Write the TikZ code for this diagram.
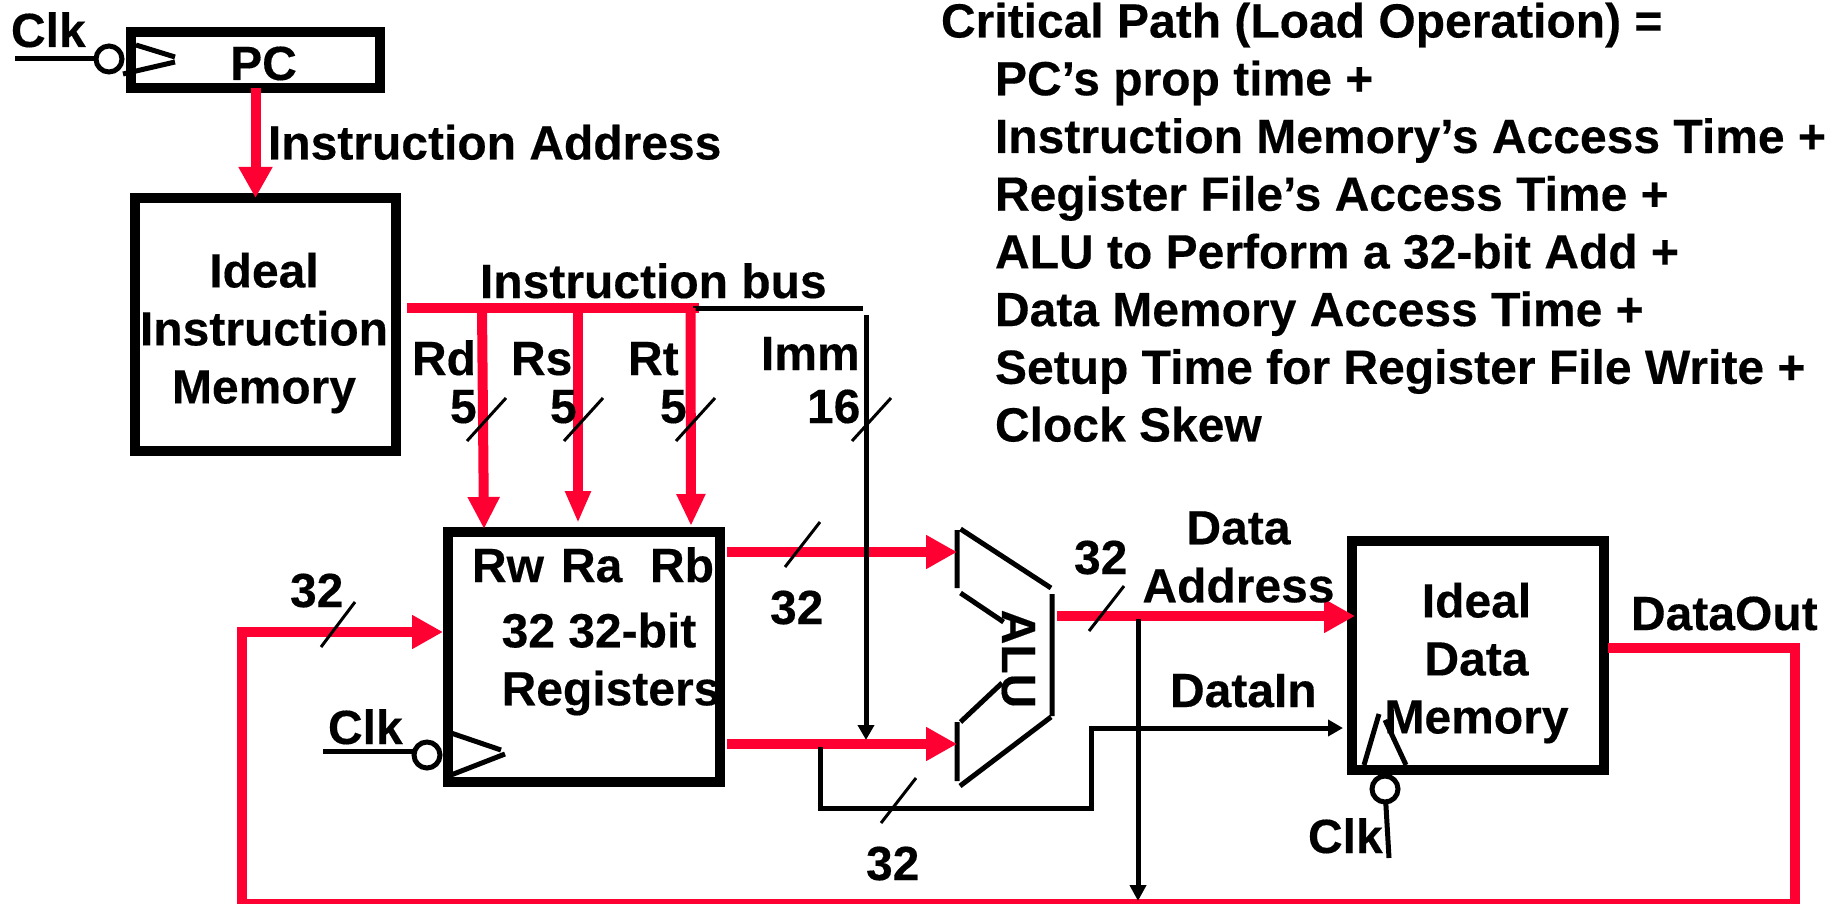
\documentclass[tikz,border=0pt]{standalone}
\usepackage{fontspec}
\setmainfont{Liberation Sans}[BoldFont={Liberation Sans Bold},BoldFeatures={FakeBold=0.3}]
\usetikzlibrary{arrows.meta}
\definecolor{busred}{HTML}{FF0033}
\tikzset{
  lbl/.style={font=\bfseries\fontsize{48}{58}\selectfont,inner sep=0pt,outer sep=0pt,text=black},
  listlbl/.style={font=\bfseries\fontsize{48}{57.7}\selectfont,inner sep=0pt,outer sep=0pt,text=black},
  blockbox/.style={draw=black,line width=10pt,fill=none,inner sep=0pt,outer sep=0pt},
  redbus/.style={draw=busred,line width=10pt},
  redarrow/.style={draw=busred,line width=10pt,-{Triangle[length=31pt,width=32pt,fill=busred]}},
  thin wire/.style={draw=black,line width=5pt},
  black arrow/.style={draw=black,line width=5pt,-{Triangle[length=15pt,width=16pt,fill=black]}},
  slashmark/.style={draw=black,line width=3pt},
  bubble/.style={circle,draw=black,line width=5pt,fill=white,minimum size=26pt,inner sep=0pt,outer sep=0pt},
  edge mark/.style={draw=black,line width=5pt},
}
\begin{document}
\begin{tikzpicture}[x=1pt,y=-1pt]
\useasboundingbox (0,0) rectangle (1831,904);
% blocks
\node[blockbox,minimum width=249pt,minimum height=56pt] (pc) at (255.5,60) {};
\node[blockbox,minimum width=261pt,minimum height=253pt] (imem) at (265.5,324.5) {};
\node[blockbox,minimum width=272pt,minimum height=250pt] (regs) at (584,657) {};
\node[blockbox,minimum width=252pt,minimum height=229pt] (dmem) at (1478,655.5) {};
% block labels
\node[lbl,anchor=base] (pclbl) at (263.5,80) {PC};
\node[lbl,anchor=center,align=center] (imemlbl) at (264,333) {Ideal\\Instruction\\Memory};
\node[lbl,anchor=center,align=left] (regslbl) at (611,664) {32 32-bit\\Registers};
\node[lbl,anchor=center,align=center] (dmemlbl) at (1476.5,663) {Ideal\\Data\\Memory};
% PC to instruction memory
\draw[redarrow] (pc.south) -- (pc.south |- imem.north);
\node[lbl,anchor=base west] (ialbl) at (268,159.5) {Instruction Address};
% clock at PC
\node[bubble] (pcbub) at (109,59) {};
\coordinate (pcclk) at (15,59);
\draw[thin wire] (pcclk) -- (pcbub);
\node[lbl,anchor=base west] (clka) at (11,47) {Clk};
\draw[edge mark] (136,45) -- (175,57) (123,74) -- (175,62);
% instruction bus
\coordinate (busl) at (407,308);
\coordinate (busm) at (699,308);
\coordinate (busj) at (693,308);
\coordinate (busr) at (863,308);
\coordinate (immtop) at (866,315);
\draw[redbus] (busl) -- (busm);
\draw[thin wire] (busj) -- (busr);
\node[lbl,anchor=base west] (iblbl) at (480,298) {Instruction bus};
% field arrows
\coordinate (rdtop) at (482,308);
\coordinate (rstop) at (578,308);
\coordinate (rttop) at (690.5,308);
\draw[draw=busred,line width=10pt,-{Triangle[length=32pt,width=30pt,fill=busred]}] (rdtop) -- (484,529);
\draw[draw=busred,line width=10pt,-{Triangle[length=32pt,width=24pt,fill=busred]}] (rstop) -- (578,523);
\draw[draw=busred,line width=10pt,-{Triangle[length=32pt,width=27pt,fill=busred]}] (rttop) -- (691,526);
\node[lbl,anchor=base west] (rd) at (412,375) {Rd};
\node[lbl,anchor=base west] (rs) at (511,375) {Rs};
\node[lbl,anchor=base west] (rt) at (628,375) {Rt};
\node[lbl,anchor=base west] (imm) at (761,370) {Imm};
\node[lbl,anchor=base west] (n5a) at (450,423) {5};
\node[lbl,anchor=base west] (n5b) at (550,423) {5};
\node[lbl,anchor=base west] (n5c) at (660,423) {5};
\node[lbl,anchor=base west] (n16) at (807,423) {16};
\draw[slashmark] (467,441) -- (506,398);
\draw[slashmark] (564,441) -- (603,398);
\draw[slashmark] (676,441) -- (715,398);
\draw[slashmark] (852,441) -- (891,398);
% register ports
\node[lbl,anchor=base west] (rw) at (472,582) {Rw};
\node[lbl,anchor=base west] (ra) at (561,582) {Ra};
\node[lbl,anchor=base west] (rb) at (650,582) {Rb};
% reg clock
\node[bubble] (regbub) at (427,755) {};
\coordinate (regclk) at (323,751);
\draw[thin wire] (regclk) -- (regbub.west |- regclk);
\node[lbl,anchor=base west] (clkb) at (328,744) {Clk};
\draw[edge mark] (451,733) -- (501,750) (451,775) -- (505,754);
% ALU
\coordinate (alua) at (957,552);
\coordinate (alub) at (957,744);
\draw[edge mark] (957,530) -- (957,588)
  (960.5,529) -- (1051,588)
  (960.5,593) -- (1003.6,622)
  (1002,683) -- (960.5,722)
  (957,722) -- (957,781)
  (960,786) -- (1051,717)
  (1052,594) -- (1052,716);
\node[lbl,anchor=base,rotate=-90] (alulbl) at (1002,659) {ALU};
% DataOut return
\coordinate (dout) at (1608,648);
\coordinate (ret1) at (1794.5,648);
\coordinate (ret2) at (1794.5,904);
\coordinate (ret3) at (242,904);
\coordinate (ret4) at (242,632);
\draw[draw=busred,line width=10pt,line join=miter,shorten >=5pt,-{Triangle[length=31pt,width=32pt,fill=busred]}] (dout) -- (ret1) -- (ret2) -- (ret3) -- (ret4) -- (regs.west |- ret4);
\node[lbl,anchor=base west] (dolbl) at (1631,630) {DataOut};
\draw[slashmark] (321,647) -- (355,602);
\node[lbl,anchor=base west] (n32d) at (290,607) {32};
% register outputs
\coordinate (ro1) at (727,552);
\coordinate (ro2) at (727,744);
\draw[redarrow] (ro1) -- (alua);
\draw[redarrow] (ro2) -- (alub);
\draw[slashmark] (785,567) -- (820,522);
\node[lbl,anchor=base west] (n32a) at (770,624) {32};
% immediate
\draw[black arrow] (immtop) -- (866,740);
% ALU B bypass to DataIn
\coordinate (bp1) at (820,747);
\coordinate (bp2) at (820,808);
\coordinate (bp3) at (1091,808);
\coordinate (bp4) at (1091,728);
\draw[black arrow] (bp1) -- (bp2) -- (bp3) -- (bp4) -- (1343,728);
\draw[slashmark] (881,823) -- (916,778);
\node[lbl,anchor=base west] (n32b) at (866,880) {32};
\node[lbl,anchor=base west] (dilbl) at (1170,707) {DataIn};
% ALU output
\coordinate (aluo) at (1057,616);
\draw[redarrow] (aluo) -- (1355,616);
\draw[slashmark] (1089,631) -- (1124,586);
\node[lbl,anchor=base west] (n32c) at (1074,574) {32};
\node[lbl,anchor=center,align=center] (dalbl) at (1238.5,557) {Data\\Address};
% address tap to bottom
\coordinate (tap) at (1138,619);
\coordinate (tapb) at (1138,901);
\draw[draw=black,line width=5pt,-{Triangle[length=16pt,width=16pt,fill=black]}] (tap) -- (tapb);
% memory clock
\node[bubble] (dbub) at (1385,789) {};
\coordinate (dclk) at (1389,858);
\draw[thin wire] (dclk) -- (dbub);
\node[lbl,anchor=base west] (clkc) at (1308,853) {Clk};
\draw[edge mark] (1364,765) -- (1379,714) (1385,720) -- (1406,765);
% critical path text
\node[lbl,anchor=base west] (cp) at (941,37.5) {Critical Path (Load Operation) =};
\node[listlbl,anchor=north west,align=left] (cplist) at (995,60.5) {PC’s prop time +\\Instruction Memory’s Access Time +\\Register File’s Access Time +\\ALU to Perform a 32-bit Add +\\Data Memory Access Time +\\Setup Time for Register File Write +\\Clock Skew};
\end{tikzpicture}
\end{document}
